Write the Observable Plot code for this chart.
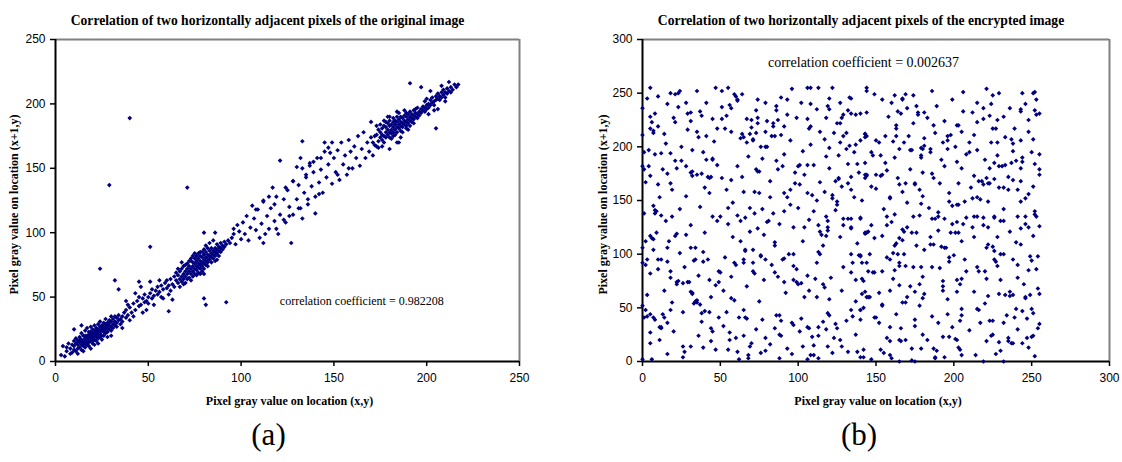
<!DOCTYPE html>
<html>
<head>
<meta charset="utf-8">
<script src="https://cdn.jsdelivr.net/npm/d3@7"></script>
<script src="https://cdn.jsdelivr.net/npm/@observablehq/plot@0.6"></script>
<style>
  html, body { margin: 0; padding: 0; background: #fff; }
  #wrap { position: relative; width: 1122px; height: 462px; overflow: hidden; }
  #wrap svg { position: absolute; top: 0; overflow: visible; }
</style>
</head>
<body>
<div id="wrap"></div>
<script>
// Axis ticks
const ticksOrig = [0, 50, 100, 150, 200, 250];
const ticksEnc = [0, 50, 100, 150, 200, 250, 300];

// Texts
const titleOrig = "Correlation of two horizontally adjacent pixels of the original image";
const titleEnc = "Correlation of two horizontally adjacent pixels of the encrypted image";
const xLabel = "Pixel gray value on location (x,y)";
const yLabel = "Pixel gray value on location (x+1,y)";
const coefOrig = "correlation coefficient = 0.982208";
const coefEnc = "correlation coefficient = 0.002637";
const tags = ["(a)", "(b)"];

// Original image: [gray at (x,y), gray at (x+1,y)]
const origPairs = [
[3,5],[4,12],[5,4],[6,11],[6,8],[7,14],[8,6],[8,10],[9,13],[9,7],[10,16],[10,9],[10,12],[11,8],[11,14],[11,18],[12,10],[12,13],[12,6],[13,15],[13,11],[13,19],[14,9],[14,13],[14,17],[14,22],[15,12],[15,16],[15,20],[15,8],[16,14],[16,18],[16,11],[16,24],[17,15],[17,20],[17,13],[17,26],[18,17],[18,21],[18,12],[18,15],[19,19],[19,23],[19,16],[19,27],[19,10],[20,18],[20,22],[20,14],[20,25],[21,20],[21,17],[21,24],[21,28],[21,13],[22,19],[22,23],[22,16],[22,26],[23,21],[23,18],[23,25],[23,29],[23,14],[24,22],[24,19],[24,27],[24,31],[25,24],[25,20],[25,28],[25,17],[26,23],[26,27],[26,30],[26,20],[27,25],[27,29],[27,22],[27,33],[28,26],[28,30],[28,23],[28,19],[29,28],[29,32],[29,25],[30,27],[30,31],[30,24],[30,35],[31,29],[31,33],[31,26],[32,31],[32,28],[32,35],[33,30],[33,34],[33,27],[34,32],[34,36],[35,33],[35,29],[36,35],[36,31],[37,38],[38,34],[38,40],[39,36],
[16,20],[18,19],[19,21],[20,20],[21,21],[22,21],[17,18],[20,16],[23,23],[24,24],[22,24],[25,26],[19,18],[18,23],[24,20],[26,25],[27,27],[28,28],[29,30],[21,22],[13,17],[14,15],[12,16],[15,14],[16,16],
[24,72],[29,137],[32,63],[34,56],[38,47],[10,25],[14,28],[30,20],[36,26],[40,32],[40,189],
[40,42],[41,38],[42,45],[43,40],[44,47],[45,43],[45,50],[46,44],[47,49],[48,46],[48,52],[49,47],[50,50],[50,45],[51,53],[52,49],[52,56],[53,51],[54,55],[55,52],[55,58],[56,54],[57,59],[57,50],[58,56],[59,61],[60,57],[60,63],[61,59],[62,64],[62,55],[46,58],[51,62],[53,44],[58,49],[45,62],[56,63],[49,40],[61,52],[43,53],[42,35],[39,44],[47,38],
[51,89],[61,39],[80,100],
[63,60],[64,66],[64,58],[65,63],[65,69],[66,61],[66,67],[67,64],[67,70],[67,58],[68,66],[68,72],[68,62],[69,68],[69,64],[69,74],[70,70],[70,66],[70,61],[71,72],[71,68],[71,76],[72,70],[72,65],[72,74],[73,72],[73,68],[73,78],[73,63],[74,74],[74,70],[74,77],[75,72],[75,76],[75,68],[75,80],[76,74],[76,78],[76,71],[76,82],[77,76],[77,73],[77,80],[77,69],[78,78],[78,75],[78,82],[78,72],[79,77],[79,81],[79,74],[79,85],[80,79],[80,76],[80,83],[80,72],[81,81],[81,78],[81,85],[81,75],[82,80],[82,83],[82,77],[82,88],[83,82],[83,79],[83,86],[84,84],[84,81],[84,88],[85,83],[85,86],[85,80],[86,85],[86,88],[86,82],[87,87],[87,84],[87,91],[88,86],[88,89],[89,88],[89,92],[89,85],[90,90],[90,87],[91,93],[91,89],[92,91],[93,94],[94,92],[95,96],
[70,75],[72,78],[74,66],[76,67],[78,85],[80,87],[82,74],[84,77],[79,70],[77,84],[73,80],[71,64],[69,60],[75,84],[81,90],[83,92],[85,94],[86,78],[88,82],[87,79],[66,72],[68,77],[74,82],[78,68],[80,68],
[80,49],[81,44],[92,46],[71,135],[63,48],[86,100],[96,103],
[96,99],[97,91],[98,106],[99,101],[100,95],[101,108],[102,99],[103,113],[104,94],[105,104],[106,121],[107,111],[108,102],[109,118],[110,96],[111,107],[112,92],[112,124],[114,113],[115,103],[116,119],[117,135],[118,109],[119,128],[120,99],[121,156],[121,114],[123,126],[124,108],[125,133],[126,120],[127,92],[128,140],[128,114],[130,151],[130,126],[131,137],[132,158],[132,119],[133,150],[133,111],[133,171],[134,131],[135,143],[136,122],[137,154],[138,136],[139,147],[140,115],[140,128],[141,158],[142,139],[143,149],[144,131],[145,163],[146,143],[147,166],[147,153],[149,138],[149,170],[150,158],[151,147],[152,164],[153,141],[154,170],[155,153],[156,160],[157,145],[158,172],[159,163],[160,150],[161,167],[162,158],[163,175],[164,152],[165,165],[166,178],[167,158],[168,170],[169,163],[170,186],[171,160],[172,175],[173,167],
[108,118],[112,125],[115,128],[118,122],[124,135],[128,140],[135,145],[137,152],[143,158],[139,155],[148,162],[145,170],[152,145],[158,150],[142,130],[136,126],[123,110],[119,103],[113,99],[131,119],[126,113],
[172,168],[173,176],[174,171],[174,180],[175,174],[175,178],[176,172],[176,181],[176,176],[177,175],[177,183],[177,170],[178,178],[178,182],[178,174],[179,180],[179,176],[179,185],[180,178],[180,183],[180,174],[180,187],[181,180],[181,184],[181,177],[182,182],[182,186],[182,178],[182,189],[183,184],[183,180],[183,187],[184,182],[184,186],[184,178],[184,190],[185,184],[185,188],[185,181],[186,186],[186,183],[186,190],[186,179],[187,185],[187,189],[187,182],[188,187],[188,191],[188,184],[189,186],[189,190],[189,183],[189,193],[190,188],[190,185],[190,192],[191,190],[191,187],[191,194],[192,189],[192,192],[192,186],[193,191],[193,195],[193,188],[194,193],[194,190],[194,196],[195,192],[195,189],[195,197],[196,194],[196,191],[197,196],[197,193],[198,198],[198,195],[199,197],[199,194],[200,199],[200,196],
[175,184],[177,187],[179,190],[181,173],[183,176],[185,193],[187,178],[189,181],[191,183],[193,185],[178,186],[180,190],[182,175],[184,194],[186,174],[188,195],[190,180],[176,167],[174,166],[173,183],[171,170],[170,174],[184,170],[180,165],[185,170],
[191,216],[205,181],[197,213],
[201,200],[201,197],[202,203],[202,199],[203,201],[203,205],[204,202],[204,199],[205,206],[205,203],[206,204],[206,208],[207,206],[207,203],[208,209],[208,205],[209,207],[209,211],[210,209],[210,205],[211,212],[211,208],[212,210],[213,213],[213,209],[214,211],[215,215],[216,213],[217,215],[202,210],[204,195],[206,196],[208,214],[210,202],[212,217],[200,204],[199,202],[201,192]
];

// Encrypted image: [gray at (x,y), gray at (x+1,y)]
const encPairs = [
[5,255],[55,255],[47,255],[24,252],[18,250],[21,249],[23,250],[35,252],[51,252],[59,249],[60,247],[64,249],[96,254],[106,255],[108,255],[113,255],[122,255],[144,255],[144,252],[10,247],[3,245],[89,246],[133,246],[134,245],
[61,244],[61,243],[74,244],[93,244],[120,245],[79,241],[41,241],[28,241],[102,241],[108,240],[86,238],[119,238],[120,235],[57,236],[0,236],[23,237],[56,239],[51,237],[132,234],[73,234],[86,234],
[5,228],[8,231],[31,232],[29,231],[37,233],[134,231],[137,230],[140,231],[129,230],[20,227],[31,224],[38,229],[51,226],[54,229],[67,226],[70,225],[74,227],[80,224],[87,225],[99,227],[106,226],[118,227],[128,227],[6,223],[21,223],[74,222],[84,222],[125,222],[127,222],
[10,219],[84,219],[108,219],[107,217],[5,217],[7,215],[7,213],[48,217],[53,217],[29,216],[35,214],[36,209],[70,218],[91,219],[79,214],[73,213],[69,212],[64,212],[63,208],[65,209],[41,210],[83,210],[85,210],[89,211],[123,213],[131,213],[143,212],[144,210],[117,207],[129,210],[71,207],[71,206],[67,204],[15,203],[0,211],[1,195],[4,197],[8,193],[12,194],[18,194],[21,187],[32,197],[39,195],[45,188],[45,189],[41,188],[120,199],[127,204],[133,201],[137,202],[108,202],[79,200],[80,200],[77,189],[86,187],[68,191],[91,193],[100,182],[101,183],[110,183],[106,183],[118,191],[131,198],[136,195],[126,192],[132,184],[138,184],[143,185],[144,173],
[0,182],[1,179],[4,182],[5,173],[2,167],[13,179],[16,175],[18,166],[19,160],[25,187],[28,182],[31,176],[32,177],[32,173],[35,174],[38,175],[42,172],[43,171],[44,172],[51,171],[57,169],[61,182],[73,179],[74,177],[75,177],[87,179],[98,176],[98,166],[101,165],[114,167],[117,158],[124,168],[126,170],[126,171],[128,163],[132,166],[134,172],[139,176],[144,174],[43,157],[28,154],[65,158],[72,158],[75,157],[106,157],[109,155],[122,155],[122,152],[136,153],
[11,153],[7,145],[8,138],[9,140],[8,141],[1,138],[19,135],[15,131],[31,127],[37,144],[48,131],[50,135],[55,143],[58,148],[61,136],[63,131],[66,134],[69,143],[69,121],[74,124],[77,142],[80,130],[81,131],[82,153],[84,138],[91,140],[91,157],[93,153],[100,143],[97,125],[104,125],[107,132],[113,127],[114,121],[115,118],[118,135],[119,131],[119,125],[124,141],[125,146],[125,149],[129,133],[129,127],[132,133],[134,133],[134,125],[134,124],[143,119],[144,120],[140,133],
[5,117],[7,114],[6,115],[9,120],[0,106],[2,112],[3,95],[7,104],[10,95],[12,95],[16,106],[17,112],[21,117],[22,119],[24,101],[16,93],[31,106],[34,106],[34,95],[33,94],[39,102],[39,93],[42,95],[49,84],[50,83],[53,97],[59,92],[63,112],[66,103],[66,104],[65,95],[65,92],[71,104],[71,92],[76,99],[76,98],[79,95],[85,108],[85,111],[90,95],[91,96],[94,100],[97,100],[97,89],[113,102],[114,100],[112,92],[116,108],[119,122],[118,117],[134,100],[135,92],[139,99],[140,98],[144,92],
[0,92],[2,90],[5,82],[10,86],[18,84],[18,78],[22,72],[22,74],[23,75],[26,73],[29,74],[30,74],[31,65],[32,64],[32,63],[35,55],[37,53],[43,76],[47,71],[49,74],[57,79],[71,84],[72,82],[78,76],[85,83],[87,79],[92,64],[97,76],[99,74],[100,72],[102,73],[104,60],[107,66],[111,77],[116,72],[117,69],[120,58],[128,66],[134,83],[137,76],[141,77],[142,75],[141,63],[143,65],[145,60],
[0,52],[2,48],[1,41],[3,42],[5,44],[7,41],[8,39],[11,32],[12,31],[12,32],[5,27],[5,17],[13,44],[14,41],[16,36],[19,55],[18,48],[26,46],[33,54],[34,56],[35,57],[38,45],[38,37],[40,47],[43,46],[44,31],[45,28],[49,41],[54,46],[56,27],[56,20],[57,59],[59,57],[65,48],[62,41],[66,41],[67,40],[65,24],[70,17],[69,14],[77,39],[86,43],[88,43],[89,38],[85,31],[88,25],[89,24],[96,36],[97,34],[101,28],[106,32],[107,31],[109,23],[113,32],[113,24],[116,37],[118,30],[119,45],[120,43],[124,35],[125,31],[128,14],[134,48],[135,42],[140,39],[140,48],[144,60],
[0,2],[6,2],[16,7],[26,14],[26,4],[27,9],[39,13],[44,19],[47,11],[55,11],[61,9],[62,2],[68,6],[68,3],[76,8],[79,10],[82,16],[88,3],[96,7],[103,14],[106,2],[108,6],[110,6],[113,3],[119,14],[122,8],[127,20],[132,9],[138,9],[140,4],
[149,249],[154,244],[160,241],[167,244],[167,245],[169,249],[174,248],[176,238],[177,232],[177,230],[164,233],[166,231],[181,232],[183,227],[189,238],[206,251],[215,241],[221,254],[225,248],[229,250],[219,236],[224,240],[223,229],[228,225],[244,250],[251,250],[252,251],[253,244],[243,235],[243,233],[236,236],[252,234],[255,231],[253,230],[248,225],[144,232],
[163,220],[163,217],[174,222],[194,224],[202,220],[203,220],[215,223],[219,226],[225,217],[227,217],[239,217],[248,214],[143,212],[143,209],[150,206],[152,204],[156,210],[161,205],[163,210],[168,204],[171,210],[179,199],[180,198],[181,201],[181,208],[185,198],[185,195],[188,213],[193,204],[196,206],[196,210],[201,200],[205,214],[210,204],[213,211],[224,204],[228,204],[233,209],[237,207],[238,203],[243,206],[251,207],[250,195],
[147,195],[148,192],[153,192],[156,185],[162,190],[165,198],[172,197],[173,197],[179,190],[179,192],[192,188],[194,182],[196,198],[202,186],[208,193],[210,195],[215,197],[220,188],[223,180],[228,192],[229,182],[231,182],[233,183],[237,185],[240,187],[244,190],[244,186],[243,180],[255,193],[255,179],[255,174],[143,174],[143,171],[150,174],[153,173],[154,174],[147,163],[150,161],[159,152],[159,153],[165,165],[169,166],[172,179],[175,165],[175,166],[180,176],[186,175],[187,171],[197,157],[197,149],[202,146],[203,146],[203,166],[207,149],[213,173],[216,168],[218,168],[219,165],[221,171],[222,166],[223,166],[226,170],[229,162],[232,162],[235,160],[238,169],[243,168],[251,163],[248,156],[243,149],[246,152],[212,152],[215,153],[217,151],[222,149],[167,158],[170,148],[180,154],[184,143],[186,133],[188,133],[190,139],[190,135],
[140,134],[143,120],[145,121],[147,127],[149,115],[154,117],[157,135],[157,127],[160,130],[162,108],[163,110],[165,115],[167,113],[167,123],[168,121],[174,135],[173,120],[176,120],[178,136],[179,147],[185,116],[185,109],[187,109],[181,104],[192,107],[194,106],[195,106],[194,133],[198,120],[201,120],[203,120],[199,128],[202,130],[206,128],[208,134],[213,135],[215,135],[213,116],[219,127],[219,134],[222,125],[222,109],[226,135],[226,134],[230,131],[232,131],[228,116],[221,106],[225,107],[226,103],[241,135],[246,135],[243,124],[246,128],[248,125],[251,117],[252,140],[252,137],[253,135],[243,109],
[140,99],[141,92],[146,100],[148,83],[149,83],[154,84],[157,97],[159,95],[161,101],[162,85],[165,92],[165,89],[164,100],[168,100],[169,89],[174,88],[179,88],[180,79],[191,87],[197,93],[197,97],[200,99],[207,95],[215,88],[216,84],[220,84],[227,93],[226,95],[228,89],[230,100],[232,100],[241,90],[249,98],[250,94],[254,98],[248,85],[241,78],[230,76],[221,77],[204,72],[202,76],[205,77],[193,75],[193,70],[193,66],[202,65],[175,65],[165,71],[172,70],[159,66],
[140,48],[142,50],[146,60],[154,53],[154,52],[167,55],[169,55],[181,63],[180,59],[205,49],[205,43],[204,38],[215,49],[216,48],[220,54],[223,38],[225,38],[229,63],[233,62],[236,65],[236,61],[238,62],[240,49],[244,47],[246,60],[246,59],[249,62],[254,68],[255,63],[250,49],[251,45],[234,43],[232,36],[239,41],[255,35],[254,31],
[149,41],[150,41],[159,32],[166,31],[175,39],[175,33],[157,22],[159,19],[165,20],[166,19],[169,20],[180,25],[183,20],[179,12],[173,12],[153,11],[155,8],[142,11],[142,4],[147,2],[159,6],[160,3],[165,0],[173,1],[175,0],[187,12],[189,10],[188,4],[188,3],[194,4],[190,36],[193,23],[197,23],[199,32],[201,21],[202,20],[203,13],[204,11],[205,6],[214,6],[219,0],[221,19],[224,24],[225,25],[227,7],[230,10],[232,0],[235,22],[235,19],[237,17],[238,17],[244,17],[247,22],[248,13],[250,23],[251,24],[252,5],[229,18],
[3,62],[14,66],[27,88],[36,80],[44,60],[52,66],[60,90],[67,70],[75,56],[83,90],[91,74],[99,86],[106,80],[112,60],[121,78],[129,88],[137,56],[145,84],
[152,64],[161,77],[170,60],[178,72],[186,88],[196,58],[208,84],[213,65],[222,61],[238,95],[245,72],[253,86],
[11,20],[20,28],[31,14],[36,24],[52,33],[60,22],[73,30],[79,22],[93,12],[102,40],[110,15],[123,22],[131,38],[137,25],
[152,36],[163,44],[178,52],[186,42],[196,44],[210,29],[217,36],[241,30],[247,40],
[12,136],[24,142],[28,118],[40,120],[45,135],[55,128],[58,116],[72,138],[78,118],[88,128],[95,146],[103,112],[110,140],[127,116],[138,110],
[155,142],[162,137],[170,125],[176,108],[190,122],[199,145],[205,112],[212,125],[232,142],[236,121],[240,111],[255,126],
[10,165],[22,180],[40,162],[48,183],[54,160],[64,172],[82,168],[90,182],[95,160],[104,174],[112,150],[120,180],[134,160],[141,150],
[157,178],[164,171],[178,160],[191,166],[205,180],[211,162],[226,185],[235,172],[241,160],[252,184],
[14,212],[25,200],[46,205],[57,214],[76,200],[95,206],[103,196],[114,214],[140,206],[93,230],[112,235],[127,241],[45,226],[16,240],
[158,228],[170,236],[187,220],[199,244],[212,232],[232,228],[246,240],[186,252],[198,211],[238,196],[162,248],[206,233]
];

const serif = "'Liberation Serif', 'Times New Roman', serif";
const sans = "'Liberation Sans', Arial, sans-serif";
const navy = "#000080";

function panel(o) {
  const W = 561, H = 462, frameTop = 39, frameBottom = 361;
  const max = o.domain[1];
  return Plot.plot({
    width: W,
    height: H,
    marginTop: frameTop,
    marginBottom: H - frameBottom,
    marginLeft: o.ml,
    marginRight: o.mr,
    style: {fontFamily: sans, fontSize: "12px", color: "#000", background: "transparent", overflow: "visible"},
    x: {domain: o.domain},
    y: {domain: o.domain},
    marks: [
      Plot.ruleY([max], {stroke: "#808080", strokeWidth: 2}),
      Plot.ruleX([max], {stroke: "#808080", strokeWidth: 2}),
      Plot.ruleX([0], {stroke: "#000", strokeWidth: 2}),
      Plot.ruleY([0], {stroke: "#000", strokeWidth: 2}),
      Plot.axisX({ticks: o.ticks, tickSize: 5, tickPadding: 7, label: null, strokeWidth: 1.5, fontSize: 12}),
      Plot.axisY({ticks: o.ticks, tickSize: 5, tickPadding: 5, label: null, strokeWidth: 1.5, fontSize: 12}),
      Plot.dot(o.pairs, {x: d => d[0], y: d => d[1], symbol: "diamond2", r: 2.1, fill: navy, stroke: "none"}),
      Plot.text([o.note], {x: () => o.noteAt[0], y: () => o.noteAt[1], fontFamily: serif, fontSize: o.noteSize, fill: "#000"}),
      Plot.text([o.title], {frameAnchor: "top", dx: o.titleDx, dy: -24, fontFamily: serif, fontWeight: "bold", fontSize: 13.6, fill: "#000"}),
      Plot.text([xLabel], {frameAnchor: "bottom", dx: o.xLabelDx, dy: 43, fontFamily: serif, fontWeight: "bold", fontSize: 12, fill: "#000"}),
      Plot.text([yLabel], {frameAnchor: "left", textAnchor: "middle", dx: o.yLabelDx, dy: 4, rotate: -90, fontFamily: serif, fontWeight: "bold", fontSize: 12, fill: "#000"}),
      Plot.text([o.tag], {frameAnchor: "bottom", textAnchor: "middle", dx: o.tagDx, dy: 83, fontFamily: serif, fontSize: 31, fill: "#000"})
    ]
  });
}

const wrap = document.getElementById("wrap");

const left = panel({
  pairs: origPairs, domain: [0, 250], ticks: ticksOrig, ml: 55, mr: 42,
  title: titleOrig, titleDx: -20, xLabelDx: 2, yLabelDx: -41,
  note: coefOrig, noteAt: [165, 47], noteSize: 12, tag: tags[0], tagDx: -19
});
left.style.left = "0px";
wrap.appendChild(left);

const right = panel({
  pairs: encPairs, domain: [0, 300], ticks: ticksEnc, ml: 81, mr: 13,
  title: titleEnc, titleDx: -15, xLabelDx: 2, yLabelDx: -39,
  note: coefEnc, noteAt: [142, 279], noteSize: 14, tag: tags[1], tagDx: -17
});
right.style.left = "561px";
wrap.appendChild(right);
</script>
</body>
</html>
